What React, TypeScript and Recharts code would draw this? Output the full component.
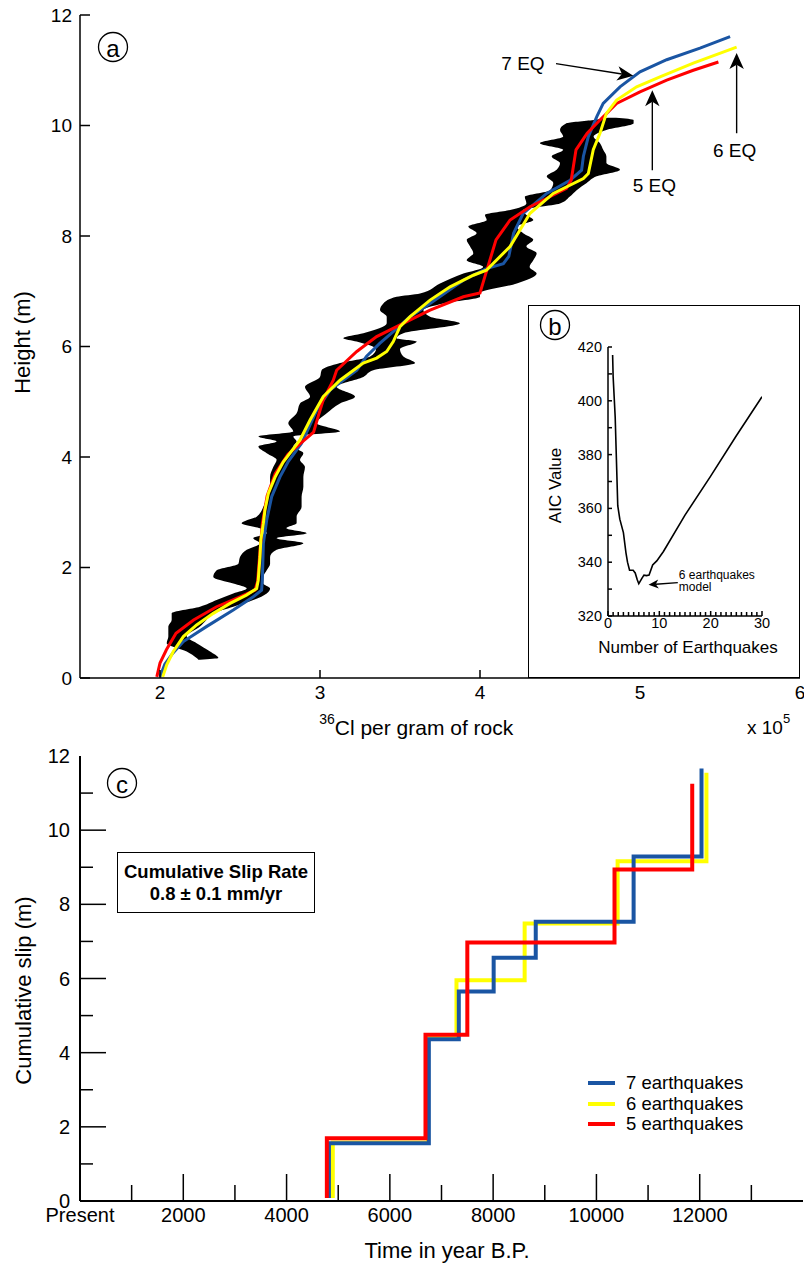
import React from "react";
import {
  ComposedChart,
  LineChart,
  Line,
  Area,
  XAxis,
  YAxis,
  ReferenceLine,
  Legend,
} from "recharts";

const FONT = '"Liberation Sans", Arial, Helvetica, sans-serif';
const BLUE = "#1a55a3";
const YELLOW = "#ffff00";
const RED = "#ff0000";
const INK = "#000";

/* (a) 36Cl profile — x in 10^5 at/g, h in m */
const EQ7_X = [2.0, 2.03, 2.08, 2.146, 2.29, 2.458, 2.583, 2.635, 2.64, 2.646, 2.667, 2.698, 2.75, 2.8, 2.885, 2.98, 3.063, 3.23, 3.29, 3.375, 3.458, 3.563, 3.688, 3.896, 4.04, 4.146, 4.18, 4.21, 4.27, 4.417, 4.563, 4.635, 4.646, 4.677, 4.73, 4.77, 4.875, 5.0, 5.167, 5.375, 5.563];
const EQ7_H = [0.02, 0.25, 0.45, 0.66, 0.93, 1.23, 1.47, 1.59, 1.8, 2.44, 2.86, 3.28, 3.64, 3.91, 4.25, 4.85, 5.21, 5.57, 5.82, 6.06, 6.27, 6.54, 6.78, 7.2, 7.41, 7.5, 7.63, 8.05, 8.41, 8.77, 9.01, 9.19, 9.44, 9.8, 10.16, 10.4, 10.7, 10.97, 11.19, 11.4, 11.61];

const EQ6_X = [2.017, 2.042, 2.083, 2.146, 2.229, 2.333, 2.438, 2.54, 2.604, 2.614, 2.625, 2.63, 2.646, 2.656, 2.677, 2.72, 2.77, 2.875, 2.938, 3.02, 3.125, 3.27, 3.354, 3.417, 3.458, 3.5, 3.563, 3.688, 3.813, 3.958, 4.04, 4.188, 4.313, 4.458, 4.646, 4.677, 4.708, 4.75, 4.79, 4.854, 4.979, 5.125, 5.333, 5.604];
const EQ6_H = [0.02, 0.24, 0.48, 0.75, 0.96, 1.17, 1.35, 1.5, 1.62, 1.77, 2.2, 2.5, 2.8, 3.04, 3.34, 3.64, 3.91, 4.31, 4.67, 5.09, 5.39, 5.7, 5.79, 5.91, 6.09, 6.36, 6.54, 6.84, 7.08, 7.29, 7.38, 7.81, 8.41, 8.77, 9.04, 9.13, 9.56, 9.86, 10.22, 10.46, 10.7, 10.88, 11.13, 11.42];

const EQ5_X = [1.98, 2.0, 2.04, 2.1, 2.21, 2.354, 2.5, 2.594, 2.61, 2.625, 2.64, 2.67, 2.72, 2.8, 2.96, 2.99, 3.02, 3.083, 3.104, 3.23, 3.354, 3.52, 3.688, 3.896, 4.0, 4.03, 4.1, 4.188, 4.313, 4.54, 4.57, 4.6, 4.67, 4.75, 4.854, 5.0, 5.167, 5.333, 5.49];
const EQ5_H = [0.02, 0.27, 0.51, 0.81, 1.05, 1.29, 1.47, 1.59, 1.75, 2.3, 2.8, 3.3, 3.7, 4.05, 4.45, 4.75, 5.03, 5.39, 5.57, 5.91, 6.18, 6.42, 6.66, 6.9, 6.97, 7.26, 7.93, 8.29, 8.53, 8.86, 9.01, 9.56, 9.86, 10.1, 10.4, 10.61, 10.82, 11.0, 11.15];

// measured concentration envelope (black band)
const BAND_H = [0.33, 0.36, 0.48, 0.63, 0.75, 0.93, 1.05, 1.17, 1.29, 1.41, 1.53, 1.62, 1.71, 1.83, 1.95, 2.07, 2.19, 2.32, 2.44, 2.53, 2.62, 2.71, 2.8, 2.92, 3.1, 3.28, 3.46, 3.64, 3.82, 3.95, 4.07, 4.19, 4.28, 4.37, 4.46, 4.61, 4.79, 4.97, 5.09, 5.27, 5.45, 5.57, 5.7, 5.82, 5.95, 6.09, 6.15, 6.24, 6.42, 6.54, 6.66, 6.78, 6.9, 6.96, 7.14, 7.32, 7.44, 7.56, 7.69, 7.81, 7.93, 8.05, 8.17, 8.29, 8.38, 8.47, 8.59, 8.71, 8.83, 8.96, 9.08, 9.2, 9.32, 9.44, 9.56, 9.68, 9.8, 9.92, 10.04, 10.1, 10.14];
const BAND_LO = [2.24, 2.229, 2.167, 2.042, 2.052, 2.052, 2.073, 2.073, 2.25, 2.354, 2.458, 2.542, 2.458, 2.333, 2.354, 2.49, 2.5, 2.542, 2.625, 2.583, 2.667, 2.625, 2.51, 2.604, 2.646, 2.667, 2.688, 2.688, 2.708, 2.729, 2.667, 2.615, 2.729, 2.615, 2.833, 2.802, 2.854, 2.875, 2.938, 2.906, 3.0, 3.01, 3.125, 3.313, 3.35, 3.229, 3.146, 3.271, 3.417, 3.417, 3.375, 3.396, 3.479, 3.625, 3.75, 3.896, 4.02, 3.917, 3.958, 3.938, 3.917, 3.979, 3.927, 4.042, 4.031, 4.188, 4.29, 4.28, 4.438, 4.458, 4.417, 4.479, 4.5, 4.448, 4.52, 4.375, 4.52, 4.5, 4.54, 4.71, 4.8];
const BAND_HI = [2.25, 2.365, 2.313, 2.229, 2.167, 2.25, 2.29, 2.333, 2.458, 2.583, 2.667, 2.688, 2.646, 2.646, 2.667, 2.688, 2.688, 2.729, 2.896, 2.729, 2.917, 2.79, 2.854, 2.854, 2.885, 2.885, 2.896, 2.896, 2.906, 2.875, 2.896, 2.833, 2.854, 2.833, 3.125, 2.979, 3.042, 3.125, 3.219, 3.104, 3.271, 3.333, 3.594, 3.521, 3.5, 3.604, 3.479, 3.521, 3.875, 3.688, 3.646, 3.771, 4.0, 4.0, 4.23, 4.354, 4.31, 4.333, 4.354, 4.29, 4.333, 4.27, 4.23, 4.333, 4.29, 4.27, 4.5, 4.56, 4.604, 4.667, 4.729, 4.875, 4.79, 4.79, 4.77, 4.75, 4.71, 4.79, 4.96, 4.96, 4.85];

/* (b) AIC vs number of earthquakes */
const AIC_N = [0.9, 1.0, 1.4, 1.9, 2.3, 3.0, 3.5, 3.8, 4.2, 4.9, 5.3, 5.7, 6.0, 6.6, 7.0, 7.5, 8.0, 8.7, 9.5, 10.8, 15, 20, 25, 30];
const AIC_VAL = [417, 409, 394, 361, 356, 351, 343.5, 340, 337, 337, 336, 333.5, 332, 334, 335.2, 335, 335.2, 339, 340.5, 344, 357.5, 372, 387, 401.5];

/* (c) cumulative slip histories: event ages (yr BP) and slip reached (m) */
const SLIP_BASE = 0.08;
const EQ7_YEARS = [4820, 6755, 7335, 8010, 8825, 10720, 12035];
const EQ7_SLIP = [1.56, 4.36, 5.65, 6.56, 7.53, 9.29, 11.66];
const EQ6_YEARS = [4895, 6740, 7290, 8610, 10410, 12130];
const EQ6_SLIP = [1.58, 4.4, 5.95, 7.48, 9.16, 11.55];
const EQ5_YEARS = [4780, 6690, 7500, 10350, 11855];
const EQ5_SLIP = [1.69, 4.48, 6.97, 8.94, 11.25];

const LEGEND_ITEMS = [
  { name: "7 earthquakes", color: BLUE },
  { name: "6 earthquakes", color: YELLOW },
  { name: "5 earthquakes", color: RED },
];

// tick values
const A_X_TICKS = [2, 3, 4, 5, 6];
const A_TOP_TICKS = [2, 3, 4, 5];
const A_Y_TICKS = [0, 2, 4, 6, 8, 10, 12];
const B_Y_TICKS = [320, 330, 340, 350, 360, 370, 380, 390, 400, 410, 420];
const B_X_TICKS = Array.from({ length: 31 }, (_, i) => i);
const C_X_TICKS = [0, 1000, 2000, 3000, 4000, 5000, 6000, 7000, 8000, 9000, 10000, 11000, 12000, 13000];
const C_Y_TICKS = [0, 1, 2, 3, 4, 5, 6, 7, 8, 9, 10, 11, 12];

const zip = (xs: number[], hs: number[]) => xs.map((x, i) => ({ x, h: hs[i] }));
const band = BAND_H.map((h, i) => ({ h, r: [BAND_LO[i], BAND_HI[i]] }));
const aic = AIC_N.map((n, i) => ({ n, aic: AIC_VAL[i] }));
const steps = (years: number[], slips: number[]) => [
  ...years.map((t, i) => ({ t, s: i === 0 ? SLIP_BASE : slips[i - 1] })),
  { t: years[years.length - 1], s: slips[slips.length - 1] },
];

type TickOpts = {
  len: (v: number) => number;
  label: (v: number) => string | null;
  size: number;
  gap: number;
};

const bottomTick = (o: TickOpts) => (p: any) => {
  const v = p.payload.value;
  const L = o.len(v);
  const lab = o.label(v);
  return (
    <g>
      {L > 0 && <line x1={p.x} y1={p.y} x2={p.x} y2={p.y - L} stroke={INK} strokeWidth={1.5} />}
      {lab !== null && (
        <text x={p.x} y={p.y + o.gap} textAnchor="middle" dominantBaseline="central" fontSize={o.size} fontFamily={FONT} fill={INK}>
          {lab}
        </text>
      )}
    </g>
  );
};

const leftTick = (o: TickOpts) => (p: any) => {
  const v = p.payload.value;
  const L = o.len(v);
  const lab = o.label(v);
  return (
    <g>
      {L > 0 && <line x1={p.x} y1={p.y} x2={p.x + L} y2={p.y} stroke={INK} strokeWidth={1.5} />}
      {lab !== null && (
        <text x={p.x - o.gap} y={p.y} textAnchor="end" dominantBaseline="central" fontSize={o.size} fontFamily={FONT} fill={INK}>
          {lab}
        </text>
      )}
    </g>
  );
};

const topTick = (len: number) => (p: any) => (
  <line x1={p.x} y1={p.y} x2={p.x} y2={p.y + len} stroke={INK} strokeWidth={1.5} />
);
const rightTick = (len: number) => (p: any) => (
  <line x1={p.x} y1={p.y} x2={p.x - len} y2={p.y} stroke={INK} strokeWidth={1.5} />
);

const arrowShape =
  (lines: string[], dx: number, dy: number, size: number, head: number, anchor: "middle" | "start" | "end", lineH = 0) =>
  (p: any) => {
    const { x1, y1, x2, y2 } = p;
    const a = Math.atan2(y2 - y1, x2 - x1);
    const c = Math.cos(a);
    const s = Math.sin(a);
    const bx = x2 - head * c;
    const by = y2 - head * s;
    const w = head * 0.45;
    const nx = x2 - head * 0.72 * c;
    const ny = y2 - head * 0.72 * s;
    return (
      <g>
        <line x1={x1} y1={y1} x2={nx} y2={ny} stroke={INK} strokeWidth={1.4} />
        <polygon
          points={`${x2},${y2} ${bx - s * w},${by + c * w} ${nx},${ny} ${bx + s * w},${by - c * w}`}
          fill={INK}
        />
        {lines.map((t, i) => (
          <text
            key={t}
            x={x1 + dx}
            y={y1 + dy + i * lineH}
            textAnchor={anchor}
            dominantBaseline="central"
            fontSize={size}
            fontFamily={FONT}
            fill={INK}
          >
            {t}
          </text>
        ))}
      </g>
    );
  };

function CircleTag({ cx, cy, ch }: { cx: number; cy: number; ch: string }) {
  return (
    <svg width={34} height={34} style={{ position: "absolute", left: cx - 17, top: cy - 17, overflow: "visible" }}>
      <circle cx={17} cy={17} r={14.5} fill="none" stroke={INK} strokeWidth={1.3} />
      <text x={17} y={18} textAnchor="middle" dominantBaseline="central" fontSize={24} fontFamily={FONT} fill={INK}>
        {ch}
      </text>
    </svg>
  );
}

const axisLine = { stroke: INK, strokeWidth: 1.5 };

export default function App() {
  return (
    <div style={{ position: "relative", width: 804, height: 1263, fontFamily: FONT, background: "#fff" }}>
      <style>{"body{margin:0}"}</style>

      {/* (a) */}
      <div style={{ position: "absolute", left: 0, top: 0 }}>
        <ComposedChart layout="vertical" width={804} height={740} margin={{ top: 15, right: 4, bottom: 0, left: 0 }}>
          <XAxis
            type="number"
            domain={[1.5, 6]}
            allowDataOverflow
            ticks={A_X_TICKS}
            interval={0}
            tickSize={0}
            tickMargin={0}
            tickLine={false}
            axisLine={axisLine}
            height={62}
            tick={bottomTick({ len: (v) => (v < 6 ? 8 : 0), label: (v) => String(v), size: 19, gap: 14 })}
            label={{
              content: (p: any) => {
                const vb = p.viewBox;
                return (
                  <g fontFamily={FONT} fill={INK}>
                    <text x={vb.x + vb.width * 0.467} y={vb.y + 49} textAnchor="middle" dominantBaseline="central">
                      <tspan fontSize={14} dy={-8}>36</tspan>
                      <tspan fontSize={21} dy={8}>Cl per gram of rock</tspan>
                    </text>
                    <text x={vb.x + 667} y={vb.y + 49} dominantBaseline="central">
                      <tspan fontSize={19}>x 10</tspan>
                      <tspan fontSize={13} dy={-9}>5</tspan>
                    </text>
                  </g>
                );
              },
            }}
          />
          <XAxis
            xAxisId="top"
            orientation="top"
            type="number"
            domain={[1.5, 6]}
            allowDataOverflow
            ticks={A_TOP_TICKS}
            interval={0}
            tickSize={0}
            tickMargin={0}
            tickLine={false}
            axisLine={axisLine}
            height={0}
            tick={topTick(9)}
          />
          <YAxis
            type="number"
            dataKey="h"
            domain={[0, 12]}
            reversed
            allowDataOverflow
            ticks={A_Y_TICKS}
            interval={0}
            tickSize={0}
            tickMargin={0}
            tickLine={false}
            axisLine={axisLine}
            width={80}
            tick={leftTick({ len: () => 10, label: (v) => String(v), size: 19, gap: 8 })}
            label={{
              content: (p: any) => {
                const vb = p.viewBox;
                const x = vb.x + 22;
                const y = vb.y + vb.height / 2 - 4;
                return (
                  <text
                    x={x}
                    y={y}
                    transform={`rotate(-90, ${x}, ${y})`}
                    textAnchor="middle"
                    dominantBaseline="central"
                    fontSize={22}
                    fontFamily={FONT}
                    fill={INK}
                  >
                    Height (m)
                  </text>
                );
              },
            }}
          />
          <YAxis
            yAxisId="right"
            orientation="right"
            type="number"
            dataKey="h"
            domain={[0, 12]}
            reversed
            allowDataOverflow
            ticks={[2, 4, 6, 8, 10]}
            interval={0}
            tickSize={0}
            tickMargin={0}
            tickLine={false}
            axisLine={axisLine}
            width={0}
            tick={rightTick(10)}
          />

          <Area
            data={band}
            dataKey="r"
            type="monotone"
            fill={INK}
            fillOpacity={1}
            stroke="none"
            isAnimationActive={false}
          />
          <Line data={zip(EQ7_X, EQ7_H)} dataKey="x" stroke={BLUE} strokeWidth={3} dot={false} isAnimationActive={false} />
          <Line data={zip(EQ5_X, EQ5_H)} dataKey="x" stroke={RED} strokeWidth={3} dot={false} isAnimationActive={false} />
          <Line data={zip(EQ6_X, EQ6_H)} dataKey="x" stroke={YELLOW} strokeWidth={3} dot={false} isAnimationActive={false} />

          <ReferenceLine
            segment={[{ x: 4.475, y: 11.12 }, { x: 4.958, y: 10.9 }]}
            shape={arrowShape(["7 EQ"], -33, 0, 19, 16, "middle")}
          />
          <ReferenceLine
            segment={[{ x: 5.077, y: 9.19 }, { x: 5.077, y: 10.64 }]}
            shape={arrowShape(["5 EQ"], 2, 15, 19, 16, "middle")}
          />
          <ReferenceLine
            segment={[{ x: 5.604, y: 9.86 }, { x: 5.604, y: 11.31 }]}
            shape={arrowShape(["6 EQ"], -2, 17, 19, 16, "middle")}
          />
        </ComposedChart>
      </div>
      <CircleTag cx={113} cy={47} ch="a" />

      {/* (b) inset */}
      <div
        style={{
          position: "absolute",
          left: 528,
          top: 305,
          width: 272,
          height: 373,
          background: "#fff",
          border: "1.5px solid #000",
          boxSizing: "border-box",
        }}
      >
        <div style={{ position: "absolute", left: -1.5, top: -1.5 }}>
          <LineChart data={aic} width={272} height={373} margin={{ top: 42, right: 38, bottom: 0, left: 0 }}>
            <XAxis
              type="number"
              dataKey="n"
              domain={[0, 30]}
              allowDataOverflow
              ticks={B_X_TICKS}
              interval={0}
              tickSize={0}
              tickMargin={0}
              tickLine={false}
              axisLine={axisLine}
              height={62}
              tick={bottomTick({ len: (v) => (v % 10 === 0 ? 5 : 4), label: (v) => (v % 10 === 0 ? String(v) : null), size: 14.5, gap: 7 })}
              label={{
                content: (p: any) => {
                  const vb = p.viewBox;
                  return (
                    <text x={vb.x + vb.width / 2 + 3} y={vb.y + 31} textAnchor="middle" dominantBaseline="central" fontSize={17} fontFamily={FONT} fill={INK}>
                      Number of Earthquakes
                    </text>
                  );
                },
              }}
            />
            <XAxis xAxisId="top" orientation="top" type="number" domain={[0, 30]} allowDataOverflow height={0} tick={false} tickLine={false} axisLine={axisLine} />
            <YAxis
              type="number"
              domain={[320, 420]}
              allowDataOverflow
              ticks={B_Y_TICKS}
              interval={0}
              tickSize={0}
              tickMargin={0}
              tickLine={false}
              axisLine={axisLine}
              width={80}
              tick={leftTick({ len: () => 4, label: (v) => (v % 20 === 0 ? String(v) : null), size: 14.5, gap: 6 })}
              label={{
                content: (p: any) => {
                  const vb = p.viewBox;
                  const x = vb.x + 27;
                  const y = vb.y + vb.height / 2 + 4;
                  return (
                    <text x={x} y={y} transform={`rotate(-90, ${x}, ${y})`} textAnchor="middle" dominantBaseline="central" fontSize={17} fontFamily={FONT} fill={INK}>
                      AIC Value
                    </text>
                  );
                },
              }}
            />
            <YAxis yAxisId="right" orientation="right" type="number" domain={[320, 420]} allowDataOverflow width={0} tick={false} tickLine={false} axisLine={axisLine} />
            <Line dataKey="aic" stroke={INK} strokeWidth={1.6} dot={false} isAnimationActive={false} />
            <ReferenceLine
              segment={[{ x: 13.6, y: 332.4 }, { x: 7.9, y: 331.6 }]}
              shape={arrowShape(["6 earthquakes", "model"], 1, -8, 12, 10, "start", 12)}
            />
          </LineChart>
        </div>
        <CircleTag cx={555 - 528 - 1.5} cy={325 - 305 - 1.5} ch="b" />
      </div>

      {/* (c) */}
      <div style={{ position: "absolute", left: 0, top: 740 }}>
        <LineChart width={804} height={523} margin={{ top: 16, right: 1, bottom: 0, left: 0 }}>
          <XAxis
            type="number"
            dataKey="t"
            domain={[0, 14000]}
            allowDataOverflow
            ticks={C_X_TICKS}
            interval={0}
            tickSize={0}
            tickMargin={0}
            tickLine={false}
            axisLine={{ stroke: INK, strokeWidth: 2 }}
            height={62}
            tick={bottomTick({
              len: (v) => (v === 0 ? 0 : v % 2000 === 0 ? 27 : 16),
              label: (v) => (v === 0 ? "Present" : v % 2000 === 0 ? String(v) : null),
              size: 20,
              gap: 14,
            })}
            label={{
              content: (p: any) => {
                const vb = p.viewBox;
                return (
                  <text x={vb.x + 367} y={vb.y + 49} textAnchor="middle" dominantBaseline="central" fontSize={22} fontFamily={FONT} fill={INK}>
                    Time in year B.P.
                  </text>
                );
              },
            }}
          />
          <XAxis xAxisId="top" orientation="top" type="number" domain={[0, 14000]} allowDataOverflow height={0} tick={false} tickLine={false} axisLine={{ stroke: INK, strokeWidth: 2 }} />
          <YAxis
            type="number"
            domain={[0, 12]}
            allowDataOverflow
            ticks={C_Y_TICKS}
            interval={0}
            tickSize={0}
            tickMargin={0}
            tickLine={false}
            axisLine={{ stroke: INK, strokeWidth: 2 }}
            width={80}
            tick={leftTick({ len: (v) => (v === 0 || v === 12 ? 0 : v % 2 === 0 ? 26 : 13), label: (v) => (v % 2 === 0 ? String(v) : null), size: 20, gap: 10 })}
            label={{
              content: (p: any) => {
                const vb = p.viewBox;
                const x = vb.x + 23;
                const y = vb.y + vb.height / 2 + 12;
                return (
                  <text x={x} y={y} transform={`rotate(-90, ${x}, ${y})`} textAnchor="middle" dominantBaseline="central" fontSize={22} fontFamily={FONT} fill={INK}>
                    Cumulative slip (m)
                  </text>
                );
              },
            }}
          />
          <Line data={steps(EQ6_YEARS, EQ6_SLIP)} dataKey="s" type="stepBefore" stroke={YELLOW} strokeWidth={4} dot={false} isAnimationActive={false} />
          <Line data={steps(EQ7_YEARS, EQ7_SLIP)} dataKey="s" type="stepBefore" stroke={BLUE} strokeWidth={4} dot={false} isAnimationActive={false} />
          <Line data={steps(EQ5_YEARS, EQ5_SLIP)} dataKey="s" type="stepBefore" stroke={RED} strokeWidth={4} dot={false} isAnimationActive={false} />
          <Legend
            layout="vertical"
            align="center"
            verticalAlign="middle"
            wrapperStyle={{ left: 586, top: 333, width: 200 }}
            content={() => (
              <div>
                {LEGEND_ITEMS.map((it) => (
                  <div key={it.name} style={{ display: "flex", alignItems: "center", height: 20.5 }}>
                    <svg width={30} height={6}>
                      <line x1={2} x2={29} y1={3} y2={3} stroke={it.color} strokeWidth={4} />
                    </svg>
                    <span style={{ marginLeft: 10, fontSize: 18.5, color: INK, lineHeight: "20px" }}>{it.name}</span>
                  </div>
                ))}
              </div>
            )}
          />
        </LineChart>
      </div>
      <CircleTag cx={122} cy={783} ch="c" />
      <div
        style={{
          position: "absolute",
          left: 117,
          top: 852,
          width: 198,
          height: 61,
          border: "1.5px solid #000",
          boxSizing: "border-box",
          display: "flex",
          flexDirection: "column",
          alignItems: "center",
          justifyContent: "center",
          fontWeight: "bold",
          fontSize: 18.5,
          lineHeight: "22px",
        }}
      >
        <div>Cumulative Slip Rate</div>
        <div>0.8 ± 0.1 mm/yr</div>
      </div>
    </div>
  );
}
